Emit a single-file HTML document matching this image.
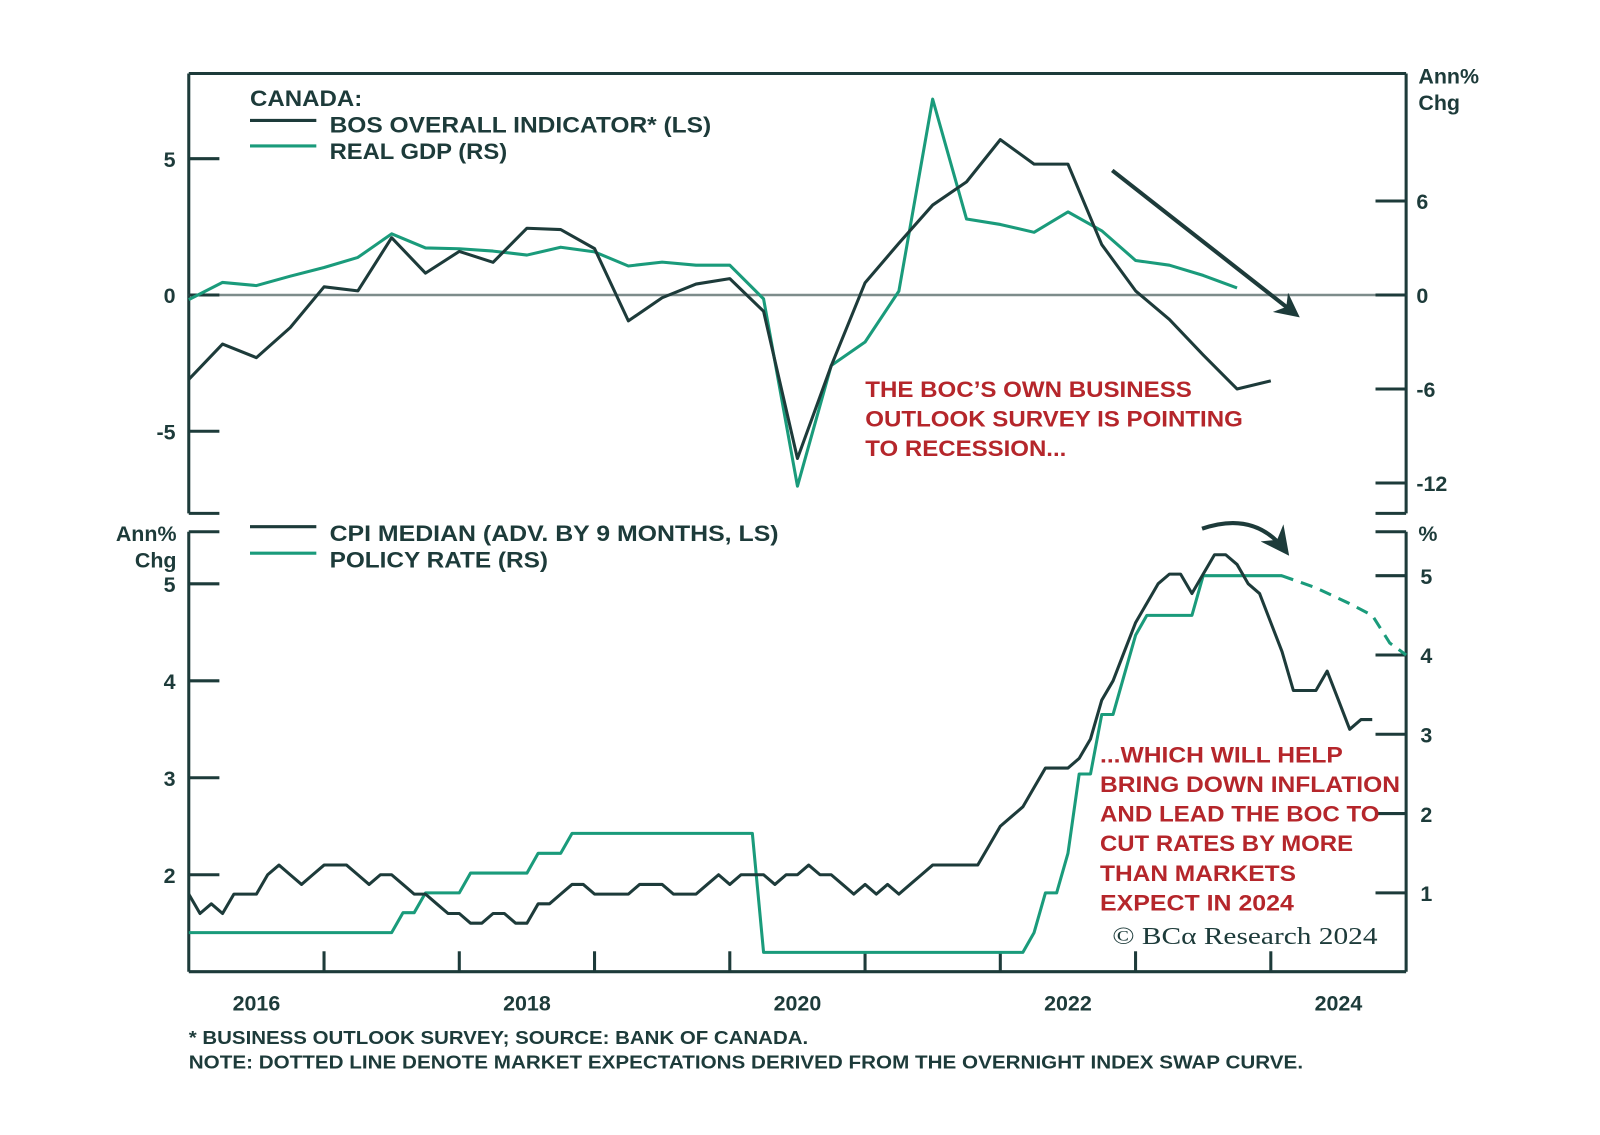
<!DOCTYPE html>
<html><head><meta charset="utf-8">
<style>
html,body{margin:0;padding:0;background:#fff;}
svg{display:block;}
text{font-family:"Liberation Sans",sans-serif;font-weight:bold;}
</style></head>
<body>
<svg id="chart" width="1600" height="1135" viewBox="0 0 1568 1112" preserveAspectRatio="none" xmlns="http://www.w3.org/2000/svg">
<rect x="0" y="0" width="1568" height="1112" fill="#fff"/>
<g id="frame" stroke="#1d3b3a" stroke-width="3" fill="none">
  <line x1="185" y1="72" x2="1378" y2="72"/>
  <line x1="185" y1="72" x2="185" y2="503"/>
  <line x1="1378" y1="72" x2="1378" y2="503"/>
  <line x1="185" y1="503" x2="215" y2="503"/>
  <line x1="1348" y1="503" x2="1378" y2="503"/>
  <line x1="185" y1="521" x2="185" y2="952"/>
  <line x1="1378" y1="521" x2="1378" y2="952"/>
  <line x1="185" y1="521" x2="215" y2="521"/>
  <line x1="1348" y1="521" x2="1378" y2="521"/>
  <line x1="185" y1="952" x2="1378" y2="952"/>
</g>
<line x1="185" y1="289" x2="1378" y2="289" stroke="#7d8c8b" stroke-width="2.5"/>
<g id="ticks"></g>
<g id="series"></g>

<text x="245" y="104" font-size="22" fill="#1d3b3a" textLength="110" lengthAdjust="spacingAndGlyphs">CANADA:</text>
<line x1="245" y1="118" x2="310" y2="118" stroke="#1d3b3a" stroke-width="3"/>
<text x="323" y="130" font-size="22" fill="#1d3b3a" textLength="374" lengthAdjust="spacingAndGlyphs">BOS OVERALL INDICATOR* (LS)</text>
<line x1="245" y1="143" x2="310" y2="143" stroke="#1a9b7b" stroke-width="3"/>
<text x="323" y="156" font-size="22" fill="#1d3b3a" textLength="174" lengthAdjust="spacingAndGlyphs">REAL GDP (RS)</text>

<line x1="245" y1="516" x2="310" y2="516" stroke="#1d3b3a" stroke-width="3"/>
<text x="323" y="530" font-size="22" fill="#1d3b3a" textLength="440" lengthAdjust="spacingAndGlyphs">CPI MEDIAN (ADV. BY 9 MONTHS, LS)</text>
<line x1="245" y1="542" x2="310" y2="542" stroke="#1a9b7b" stroke-width="3"/>
<text x="323" y="556" font-size="22" fill="#1d3b3a" textLength="214" lengthAdjust="spacingAndGlyphs">POLICY RATE (RS)</text>

<text x="1390" y="82" font-size="21" fill="#1d3b3a">Ann%</text>
<text x="1390" y="108" font-size="21" fill="#1d3b3a">Chg</text>
<text x="173" y="530" font-size="21" fill="#1d3b3a" text-anchor="end">Ann%</text>
<text x="173" y="556" font-size="21" fill="#1d3b3a" text-anchor="end">Chg</text>
<text x="1390" y="530" font-size="21" fill="#1d3b3a">%</text>

<g fill="#b5262b" font-size="22">
<text x="848" y="389" textLength="320" lengthAdjust="spacingAndGlyphs">THE BOC’S OWN BUSINESS</text>
<text x="848" y="418" textLength="370" lengthAdjust="spacingAndGlyphs">OUTLOOK SURVEY IS POINTING</text>
<text x="848" y="447" textLength="197" lengthAdjust="spacingAndGlyphs">TO RECESSION...</text>
</g>
<g fill="#b5262b" font-size="22">
<text x="1078" y="747" textLength="238" lengthAdjust="spacingAndGlyphs">...WHICH WILL HELP</text>
<text x="1078" y="776" textLength="294" lengthAdjust="spacingAndGlyphs">BRING DOWN INFLATION</text>
<text x="1078" y="805" textLength="274" lengthAdjust="spacingAndGlyphs">AND LEAD THE BOC TO</text>
<text x="1078" y="834" textLength="248" lengthAdjust="spacingAndGlyphs">CUT RATES BY MORE</text>
<text x="1078" y="863" textLength="192" lengthAdjust="spacingAndGlyphs">THAN MARKETS</text>
<text x="1078" y="892" textLength="190" lengthAdjust="spacingAndGlyphs">EXPECT IN 2024</text>
</g>
<text x="1090" y="925" font-size="24" fill="#1d3b3a" style="font-family:'Liberation Serif',serif;font-weight:normal" textLength="260" lengthAdjust="spacingAndGlyphs">© BCα Research 2024</text>

<g fill="#1d3b3a" font-size="18" font-weight="normal">
<text x="185" y="1023" textLength="607" lengthAdjust="spacingAndGlyphs">*  BUSINESS OUTLOOK SURVEY; SOURCE: BANK OF CANADA.</text>
<text x="185" y="1047" textLength="1092" lengthAdjust="spacingAndGlyphs">NOTE: DOTTED LINE DENOTE MARKET EXPECTATIONS DERIVED FROM THE OVERNIGHT INDEX SWAP CURVE.</text>
</g>

<defs>
<marker id="ah" viewBox="0 0 10 10" refX="8" refY="5" markerWidth="6" markerHeight="6" orient="auto"><path d="M0,0 L10,5 L0,10 L3,5 z" fill="#1d3b3a"/></marker>
<marker id="ah2" viewBox="0 0 10 10" refX="8" refY="5" markerWidth="7" markerHeight="7" orient="auto"><path d="M0,0 L10,5 L0,10 L3,5 z" fill="#1d3b3a"/></marker>
</defs>
<line x1="1090" y1="167" x2="1270" y2="308" stroke="#1d3b3a" stroke-width="4" marker-end="url(#ah)"/>
<path d="M1178,518 Q1230,500 1260,540" stroke="#1d3b3a" stroke-width="4" fill="none" marker-end="url(#ah2)"/>
</svg>
<script>
// Data
const bosStart = 2016.0; // quarterly
const bosValues = [-3.1,-1.8,-2.3,-1.2,0.3,0.15,2.1,0.8,1.6,1.2,2.45,2.4,1.7,-0.95,-0.1,0.4,0.6,-0.6,-6.0,-2.6,0.45,1.9,3.3,4.15,5.7,4.8,4.8,1.85,0.15,-0.9,-2.2,-3.45,-3.15];
const gdpValues = [-0.3,0.8,0.6,1.2,1.75,2.4,3.9,3.0,2.95,2.8,2.55,3.05,2.75,1.85,2.1,1.9,1.9,-0.25,-12.2,-4.5,-3.0,0.25,12.5,4.85,4.5,4.0,5.3,4.1,2.2,1.9,1.25,0.45];
const cpiValues = [1.8,1.6,1.7,1.6,1.8,1.8,1.8,2.0,2.1,2.0,1.9,2.0,2.1,2.1,2.1,2.0,1.9,2.0,2.0,1.9,1.8,1.8,1.7,1.6,1.6,1.5,1.5,1.6,1.6,1.5,1.5,1.7,1.7,1.8,1.9,1.9,1.8,1.8,1.8,1.8,1.9,1.9,1.9,1.8,1.8,1.8,1.9,2.0,1.9,2.0,2.0,2.0,1.9,2.0,2.0,2.1,2.0,2.0,1.9,1.8,1.9,1.8,1.9,1.8,1.9,2.0,2.1,2.1,2.1,2.1,2.1,2.3,2.5,2.6,2.7,2.9,3.1,3.1,3.1,3.2,3.4,3.8,4.0,4.3,4.6,4.8,5.0,5.1,5.1,4.9,5.1,5.3,5.3,5.2,5.0,4.9,4.6,4.3,3.9,3.9,3.9,4.1,3.8,3.5,3.6,3.6];
const policyValues = [0.5,0.5,0.5,0.5,0.5,0.5,0.5,0.5,0.5,0.5,0.5,0.5,0.5,0.5,0.5,0.5,0.5,0.5,0.5,0.75,0.75,1.0,1.0,1.0,1.0,1.25,1.25,1.25,1.25,1.25,1.25,1.5,1.5,1.5,1.75,1.75,1.75,1.75,1.75,1.75,1.75,1.75,1.75,1.75,1.75,1.75,1.75,1.75,1.75,1.75,1.75,0.25,0.25,0.25,0.25,0.25,0.25,0.25,0.25,0.25,0.25,0.25,0.25,0.25,0.25,0.25,0.25,0.25,0.25,0.25,0.25,0.25,0.25,0.25,0.25,0.5,1.0,1.0,1.5,2.5,2.5,3.25,3.25,3.75,4.25,4.5,4.5,4.5,4.5,4.5,5.0,5.0,5.0,5.0,5.0,5.0,5.0,5.0];
const expectTimes = [2024.08,2024.33,2024.58,2024.75,2024.88,2025.0];
const expectValues = [5.0,4.85,4.65,4.5,4.15,4.0];
const topLeftTicks = [5,0,-5];
const topRightTicks = [6,0,-6,-12];
const botLeftTicks = [5,4,3,2];
const botRightTicks = [5,4,3,2,1];
const yearTicks = [2017,2018,2019,2020,2021,2022,2023,2024];
const yearLabels = [2016,2018,2020,2022,2024];

// Axes
const x = t => 185 + (t - 2016) * 132.55;
const yTL = v => 289 - v * 26.7;
const yTR = v => 289 - v * 15.35;
const yBL = v => 572 - (v - 5) * 95;
const yBR = v => 564 - (v - 5) * 77.7;
const NS = 'http://www.w3.org/2000/svg';
const ticks = document.getElementById('ticks');
const series = document.getElementById('series');
function mk(tag, parent, attrs){const e=document.createElementNS(NS,tag);for(const k in attrs)e.setAttribute(k,attrs[k]);parent.appendChild(e);return e;}
function tick(parent,x1,y1,x2,y2){const l=mk('line',parent,{x1:x1,y1:y1,x2:x2,y2:y2,stroke:'#1d3b3a','stroke-width':3});

}
function label(parent,xx,yy,txt,anchor,nm){const t=mk('text',parent,{x:xx,y:yy,'font-size':21,fill:'#1d3b3a','text-anchor':anchor});t.textContent=txt;

}
topLeftTicks.forEach(v=>{tick(ticks,185,yTL(v),215,yTL(v));label(ticks,172,yTL(v)+8,String(v),'end','top-left-tick-label');});
topRightTicks.forEach(v=>{tick(ticks,1348,yTR(v),1378,yTR(v));label(ticks,1388,yTR(v)+8,String(v),'start','top-right-tick-label');});
botLeftTicks.forEach(v=>{tick(ticks,185,yBL(v),215,yBL(v));label(ticks,172,yBL(v)+8,String(v),'end','bottom-left-tick-label');});
botRightTicks.forEach(v=>{tick(ticks,1348,yBR(v),1378,yBR(v));label(ticks,1392,yBR(v)+8,String(v),'start','bottom-right-tick-label');});
yearTicks.forEach(t=>tick(ticks,x(t),932,x(t),952));
yearLabels.forEach(t=>label(ticks,x(t+0.5),990,String(t),'middle','year-label'));

function poly(pts,color,nm,dash){const p=mk('polyline',series,{points:pts.map(q=>q[0].toFixed(1)+','+q[1].toFixed(1)).join(' '),fill:'none',stroke:color,'stroke-width':3,'stroke-linejoin':'round'});
if(dash)p.setAttribute('stroke-dasharray',dash);

}
poly(gdpValues.map((v,i)=>[x(bosStart+i*0.25),yTR(v)]),'#1a9b7b','gdp-line');
poly(bosValues.map((v,i)=>[x(bosStart+i*0.25),yTL(v)]),'#1d3b3a','bos-line');
poly(policyValues.map((v,i)=>[x(2016+i/12),yBR(v)]),'#1a9b7b','policy-rate-line');
poly(expectValues.map((v,i)=>[x(expectTimes[i]),yBR(v)]),'#1a9b7b','policy-expectations-line','12,8');
poly(cpiValues.map((v,i)=>[x(2016+i/12),yBL(v)]),'#1d3b3a','cpi-median-line');
</script>
</body></html>
